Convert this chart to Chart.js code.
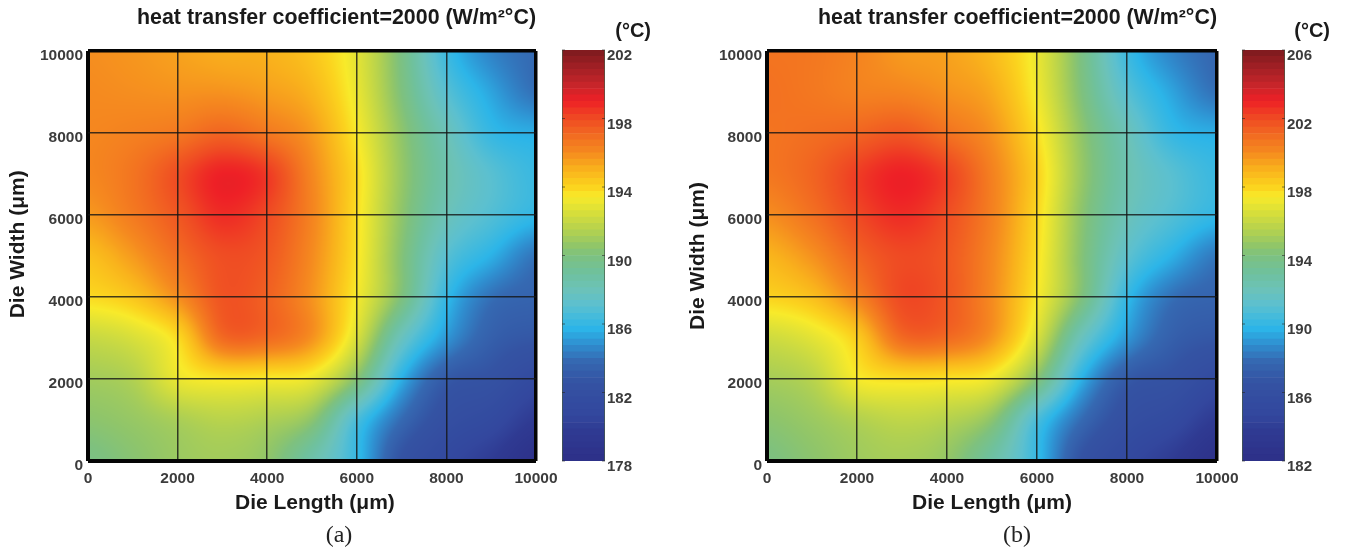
<!DOCTYPE html>
<html>
<head>
<meta charset="utf-8">
<script src="https://cdn.jsdelivr.net/npm/chart.js@4/dist/chart.umd.min.js"></script>
<style>
html, body { margin: 0; padding: 0; background: #fff; width: 1345px; height: 552px; overflow: hidden; }
canvas { position: absolute; top: 0; }
.cap { position: absolute; top: 521px; width: 60px; text-align: center; font: 24px "Liberation Serif", serif; color: #222; }
</style>
</head>
<body>
<canvas id="heatA" width="666" height="552" style="left:0"></canvas>
<canvas id="barA" width="106" height="552" style="left:545px"></canvas>
<canvas id="heatB" width="665" height="552" style="left:680px"></canvas>
<canvas id="barB" width="105" height="552" style="left:1225px"></canvas>
<div class="cap" style="left:309px">(a)</div>
<div class="cap" style="left:987px">(b)</div>
<script>
var chartTitle = "heat transfer coefficient=2000 (W/m²°C)";
var xName = "Die Length (μm)";
var unitName = "(°C)";
var lengths = [0, 1000, 2000, 3000, 4000, 5000, 6000, 7000, 8000, 9000, 10000];
var widths = [10000, 9000, 8000, 7000, 6000, 5000, 4000, 3000, 2000, 1000, 0];

// temperature read at each grid node, rows from width 10000 down to 0
var tempA = [
    [195.9, 195.7, 195.4, 195.1, 195.0, 194.4, 192.8, 189.8, 186.2, 184.5, 183.8],
    [196.0, 195.9, 195.8, 195.8, 195.5, 194.9, 193.0, 190.0, 187.0, 185.3, 184.0],
    [196.1, 196.3, 196.6, 197.2, 196.6, 195.6, 193.4, 190.5, 188.0, 186.0, 185.5],
    [196.1, 196.7, 197.9, 199.0, 198.4, 196.1, 193.8, 190.7, 188.4, 187.0, 186.1],
    [195.6, 196.5, 197.6, 198.7, 198.0, 196.2, 193.7, 190.5, 188.0, 186.8, 185.9],
    [194.6, 195.6, 196.9, 197.9, 197.6, 196.0, 193.6, 190.2, 187.0, 185.6, 184.1],
    [193.8, 194.4, 195.9, 197.7, 197.3, 195.8, 193.3, 190.0, 186.0, 184.0, 183.5],
    [192.0, 192.5, 193.8, 197.0, 197.0, 195.8, 192.5, 187.8, 185.0, 183.3, 182.8],
    [191.0, 191.4, 193.0, 193.5, 193.4, 193.0, 190.2, 185.6, 183.0, 182.4, 181.2],
    [190.4, 190.7, 191.2, 191.6, 191.3, 190.4, 186.6, 183.8, 182.0, 181.2, 179.7],
    [189.8, 190.3, 190.8, 191.0, 190.5, 188.5, 186.0, 182.5, 181.0, 179.8, 178.3]
];
var tempB = [
    [200.7, 200.6, 200.2, 199.6, 199.4, 198.7, 197.0, 193.8, 190.2, 188.5, 187.7],
    [200.8, 200.6, 200.3, 200.2, 199.8, 199.2, 197.2, 194.0, 191.0, 189.3, 188.0],
    [200.7, 200.9, 201.2, 201.6, 200.8, 199.8, 197.7, 194.5, 192.0, 190.0, 189.5],
    [200.6, 201.2, 202.3, 203.0, 202.2, 200.3, 198.1, 194.7, 192.3, 191.0, 190.1],
    [199.9, 200.8, 202.0, 202.7, 201.9, 200.3, 197.9, 194.4, 192.0, 190.8, 189.9],
    [198.9, 199.8, 201.2, 202.0, 201.6, 200.1, 197.7, 194.2, 191.2, 189.6, 188.2],
    [198.0, 198.6, 200.2, 202.0, 201.6, 200.0, 197.4, 194.0, 190.0, 188.0, 187.5],
    [196.2, 196.8, 198.2, 201.0, 201.0, 199.7, 196.5, 191.8, 189.0, 187.3, 186.8],
    [195.1, 195.6, 197.3, 197.7, 197.6, 197.1, 194.2, 189.6, 187.0, 186.4, 185.3],
    [194.4, 194.8, 195.4, 195.8, 195.5, 194.4, 190.6, 187.8, 186.0, 185.2, 183.7],
    [193.9, 194.4, 194.9, 195.1, 194.6, 192.7, 190.0, 186.5, 185.0, 183.8, 182.3]
];
var rangeA = [178, 202];
var rangeB = [182, 206];

// colour bar read at its own ticks, 0 = bottom, 24 = top of the range
var mapPos = [0, 1.7, 2.7, 4.6, 5.8, 6.8, 7.7, 9.1, 10, 11, 12, 12.5, 13.5, 14.5, 15.4, 16, 17, 18, 19, 20, 21, 22, 23, 24];
var mapCol = ["#2d3088", "#2f3a92", "#33479e", "#3453a3", "#3569b2", "#2f8fd0", "#2cb5e8", "#5cc0cf", "#6cc2b8", "#6fc19c", "#7ec17e", "#8fc56a", "#b5d24e", "#d8df3a", "#f8ea2a", "#fbd31e", "#f9b21c", "#f58a1f", "#f26b21", "#ef4a23", "#ee2026", "#c4252a", "#a01f24", "#7b1a1e"];
var levelCount = 64;

function hexRgb(h) {
    return [parseInt(h.substr(1, 2), 16), parseInt(h.substr(3, 2), 16), parseInt(h.substr(5, 2), 16)];
}

function mapColor(p) {
    var i = 0;
    while (i < mapPos.length - 2 && p > mapPos[i + 1]) i++;
    var f = (p - mapPos[i]) / (mapPos[i + 1] - mapPos[i]);
    f = Math.max(0, Math.min(1, f));
    var a = hexRgb(mapCol[i]), b = hexRgb(mapCol[i + 1]);
    return [0, 1, 2].map(function (k) {
        return Math.round(a[k] + (b[k] - a[k]) * f);
    });
}

var levels = [];
for (var n = 0; n < levelCount; n++) levels.push(mapColor((n + 0.5) * 24 / levelCount));

function cr(a, b, c, d, t) {
    return b + 0.5 * t * (c - a + t * (2 * a - 5 * b + 4 * c - d + t * (3 * (b - c) + d - a)));
}

function nodeAt(rows, j, i) {
    j = Math.max(0, Math.min(rows.length - 1, j));
    i = Math.max(0, Math.min(rows[0].length - 1, i));
    return rows[j][i];
}

function fieldAt(rows, fx, fy) {
    var i = Math.min(Math.floor(fx), rows[0].length - 2), j = Math.min(Math.floor(fy), rows.length - 2);
    var tx = fx - i, ty = fy - j, col = [];
    for (var k = -1; k < 3; k++) {
        col.push(cr(nodeAt(rows, j + k, i - 1), nodeAt(rows, j + k, i), nodeAt(rows, j + k, i + 1), nodeAt(rows, j + k, i + 2), tx));
    }
    return cr(col[0], col[1], col[2], col[3], ty);
}

// interpolated shading of the node values, like shading interp
var shadePlugin = {
    id: "shade",
    beforeDatasetsDraw: function (chart, args, o) {
        var a = chart.chartArea, xs = chart.scales.x, ys = chart.scales.y;
        var w = Math.round(a.right - a.left), h = Math.round(a.bottom - a.top);
        var img = chart.ctx.createImageData(w, h);
        for (var py = 0; py < h; py++) {
            var fy = (widths[0] - ys.getValueForPixel(a.top + py + 0.5)) / (widths[0] - widths[1]);
            for (var px = 0; px < w; px++) {
                var fx = (xs.getValueForPixel(a.left + px + 0.5) - lengths[0]) / (lengths[1] - lengths[0]);
                var v = fieldAt(o.rows, Math.max(0, fx), Math.max(0, fy));
                var c = mapColor(v - o.range[0]);
                var q = (py * w + px) * 4;
                img.data[q] = c[0];
                img.data[q + 1] = c[1];
                img.data[q + 2] = c[2];
                img.data[q + 3] = 255;
            }
        }
        chart.ctx.putImageData(img, Math.round(a.left), Math.round(a.top));
    }
};

var barFrame = {
    id: "barFrame",
    afterDraw: function (chart) {
        var a = chart.chartArea, ctx = chart.ctx;
        ctx.save();
        ctx.strokeStyle = "rgba(70,90,70,.7)";
        ctx.lineWidth = 1;
        ctx.beginPath();
        ctx.moveTo(a.left + 0.5, a.top);
        ctx.lineTo(a.left + 0.5, a.bottom);
        ctx.moveTo(a.right - 0.5, a.top);
        ctx.lineTo(a.right - 0.5, a.bottom);
        ctx.stroke();
        ctx.strokeStyle = "rgba(40,40,40,.6)";
        chart.scales.y.ticks.forEach(function (t) {
            var y = chart.scales.y.getPixelForValue(t.value);
            ctx.beginPath();
            ctx.moveTo(a.left, y);
            ctx.lineTo(a.left + 3, y);
            ctx.moveTo(a.right - 3, y);
            ctx.lineTo(a.right, y);
            ctx.stroke();
        });
        ctx.restore();
    }
};

function edgeWidth(ctx) {
    if (ctx.tick.value === 0) return 4;
    if (ctx.tick.value === 10000) return 3.5;
    return 1.5;
}

function edgeColor(ctx) {
    return ctx.tick.value === 0 || ctx.tick.value === 10000 ? "#050505" : "rgba(20,20,20,.8)";
}

function plainTick(v) {
    return String(v);
}

function heatChart(id, rows, range, leftW, rightPad, xText, yName) {
    var pts = [];
    widths.forEach(function (wd, j) {
        lengths.forEach(function (ln, i) {
            pts.push({ x: ln, y: wd, v: rows[j][i] });
        });
    });
    var tickFont = { family: "Liberation Sans", size: 15.5, weight: "bold" };
    var nameFont = { family: "Liberation Sans", size: 21, weight: "bold" };
    return new Chart(document.getElementById(id), {
        type: "scatter",
        data: { datasets: [{ data: pts, pointRadius: 0, pointHoverRadius: 0 }] },
        options: {
            responsive: false,
            animation: false,
            events: [],
            layout: { padding: { left: 0, right: rightPad, top: 0, bottom: 0 } },
            plugins: {
                legend: { display: false },
                tooltip: { enabled: false },
                shade: { rows: rows, range: range },
                title: {
                    display: true,
                    text: chartTitle,
                    fullSize: false,
                    align: "end",
                    color: "#1a1a1a",
                    font: { family: "Liberation Sans", size: 21.4, weight: "bold" },
                    padding: { top: 5, bottom: 20.3 }
                }
            },
            scales: {
                x: {
                    type: "linear",
                    min: 0,
                    max: 10000,
                    afterFit: function (s) { s.height = 91; },
                    ticks: { stepSize: 2000, color: "#3c3c3c", font: tickFont, padding: 8, maxRotation: 0, callback: plainTick },
                    border: { display: false },
                    grid: { z: 1, color: edgeColor, lineWidth: edgeWidth, drawTicks: false },
                    title: { display: true, text: xText, color: "#1a1a1a", font: nameFont, padding: { top: 0, bottom: 36 } }
                },
                y: {
                    type: "linear",
                    min: 0,
                    max: 10000,
                    afterFit: function (s) { s.width = leftW; },
                    ticks: { stepSize: 2000, color: "#3c3c3c", font: tickFont, padding: 5, labelOffset: 5, callback: plainTick },
                    border: { display: false },
                    grid: { z: 1, color: edgeColor, lineWidth: edgeWidth, drawTicks: false },
                    title: { display: true, text: yName, color: "#1a1a1a", font: nameFont, padding: { top: 6, bottom: 0 } }
                }
            }
        },
        plugins: [shadePlugin]
    });
}

function barChart(id, range, axisW) {
    var step = (range[1] - range[0]) / levelCount;
    var sets = levels.map(function (c, n) {
        return {
            data: [[range[0] + n * step, range[0] + (n + 1) * step]],
            backgroundColor: "rgb(" + c.join(",") + ")",
            borderWidth: 0,
            barPercentage: 1,
            categoryPercentage: 1,
            grouped: false
        };
    });
    return new Chart(document.getElementById(id), {
        type: "bar",
        data: { labels: ["T"], datasets: sets },
        options: {
            responsive: false,
            animation: false,
            events: [],
            layout: { padding: { left: 17, right: 0, top: 0, bottom: 91 } },
            plugins: {
                legend: { display: false },
                tooltip: { enabled: false },
                title: {
                    display: true,
                    text: unitName,
                    align: "end",
                    color: "#1a1a1a",
                    font: { family: "Liberation Sans", size: 20, weight: "bold" },
                    padding: { top: 19, bottom: 7 }
                }
            },
            scales: {
                x: { display: false },
                y: {
                    position: "right",
                    min: range[0],
                    max: range[1],
                    afterFit: function (s) { s.width = axisW; },
                    ticks: { stepSize: 4, color: "#3c3c3c", font: { family: "Liberation Sans", size: 15, weight: "bold" }, padding: 2, labelOffset: 6 },
                    border: { display: false },
                    grid: { drawOnChartArea: false, drawTicks: false }
                }
            }
        },
        plugins: [barFrame]
    });
}

heatChart("heatA", tempA, rangeA, 88, 130, " " + xName, "    Die Width (μm)");
barChart("barA", rangeA, 46);
heatChart("heatB", tempB, rangeB, 87, 128, xName, "Die Width (μm)");
barChart("barB", rangeB, 45);
</script>
</body>
</html>
